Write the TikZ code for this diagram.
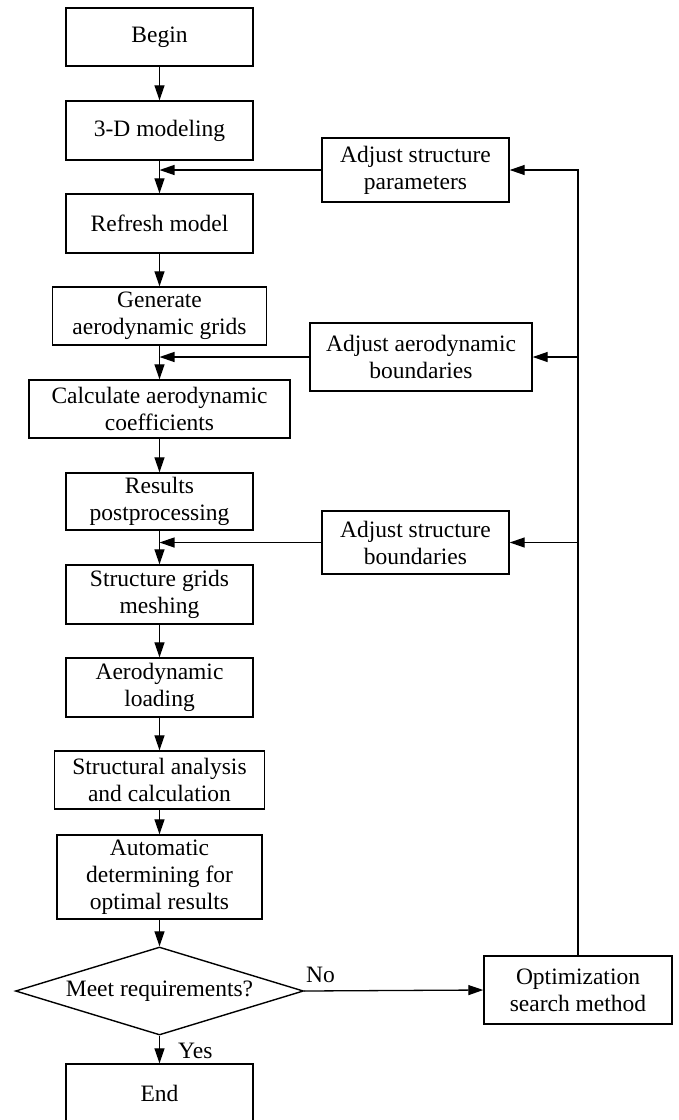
\documentclass[tikz,border=0pt]{standalone}
\usepackage{fontspec}
\setmainfont{Liberation Serif}
\usetikzlibrary{shapes.geometric, arrows.meta}

\tikzset{
  stepbox/.style={draw, line width=1.4pt, align=center, inner sep=0pt,
    font=\fontsize{23.5}{27}\selectfont},
  arr/.style={line width=1.3pt, -{Triangle[length=15pt, width=10pt]}},
  lbl/.style={font=\fontsize{23.5}{27}\selectfont, inner sep=0pt}
}

\begin{document}
\begin{tikzpicture}[x=1pt, y=-1pt]
\useasboundingbox (0,0) rectangle (678,1120);

% main column
\node[stepbox, minimum width=187pt, minimum height=58pt] (begin) at (159.5, 37) {Begin};
\node[stepbox, minimum width=187pt, minimum height=59pt] (model) at (159.5, 130.5) {3-D modeling};
\node[stepbox, minimum width=187pt, minimum height=59pt] (refresh) at (159.5, 223.5) {Refresh model};
\node[stepbox, minimum width=214pt, minimum height=58pt] (aerogrid) at (159.5, 316) {Generate\\aerodynamic grids};
\node[stepbox, minimum width=261pt, minimum height=58pt] (coeff) at (159.5, 409) {Calculate aerodynamic\\coefficients};
\node[stepbox, minimum width=187pt, minimum height=57pt] (post) at (159.5, 501.5) {Results\\postprocessing};
\node[stepbox, minimum width=187pt, minimum height=59pt] (mesh) at (159.5, 594.5) {Structure grids\\meshing};
\node[stepbox, minimum width=187pt, minimum height=59pt] (load) at (159.5, 687.5) {Aerodynamic\\loading};
\node[stepbox, minimum width=210pt, minimum height=58pt] (analysis) at (159.5, 780) {Structural analysis\\and calculation};
\node[stepbox, minimum width=205pt, minimum height=84pt] (autodet) at (159.5, 877) {Automatic\\determining for\\optimal results};
\node[stepbox, diamond, aspect=3.27, minimum width=288pt, minimum height=88pt] (meet) at (159.5, 991) {Meet requirements?};
\node[stepbox, minimum width=187pt, minimum height=58pt] (finish) at (159.5, 1093) {End};

% feedback column
\node[stepbox, minimum width=187pt, minimum height=64pt] (adjpar) at (415.5, 170) {Adjust structure\\parameters};
\node[stepbox, minimum width=222pt, minimum height=68pt] (adjaero) at (421, 357) {Adjust aerodynamic\\boundaries};
\node[stepbox, minimum width=187pt, minimum height=63pt] (adjstr) at (415.5, 542.5) {Adjust structure\\boundaries};
\node[stepbox, minimum width=188pt, minimum height=68pt] (optim) at (578, 990) {Optimization\\search method};

% main flow
\draw[arr] (begin) -- (model);
\draw[arr] (model) -- (refresh);
\draw[arr] (refresh) -- (aerogrid);
\draw[arr] (aerogrid) -- (coeff);
\draw[arr] (coeff) -- (post);
\draw[arr] (post) -- (mesh);
\draw[arr] (mesh) -- (load);
\draw[arr] (load) -- (analysis);
\draw[arr] (analysis) -- (autodet);
\draw[arr] (autodet) -- (meet);
\draw[arr] (meet) -- (finish);
\node[lbl, anchor=west] (yes) at (178, 1051) {Yes};
\draw[arr] (meet.east) -- (optim.west);
\node[lbl, anchor=west] (no) at (306, 975) {No};

% feedback loops
\draw[arr] (optim.north) -- (optim.north |- adjpar.east) -- (adjpar.east);
\draw[arr] (optim.north |- adjaero.east) -- (adjaero.east);
\draw[arr] (optim.north |- adjstr.east) -- (adjstr.east);
\draw[arr] (adjpar.west) -- (adjpar.west -| model.south);
\draw[arr] (adjaero.west) -- (adjaero.west -| aerogrid.south);
\draw[arr] (adjstr.west) -- (adjstr.west -| post.south);
\end{tikzpicture}
\end{document}
